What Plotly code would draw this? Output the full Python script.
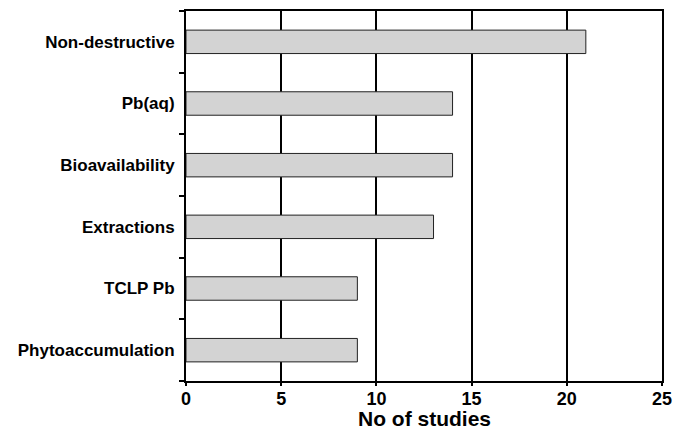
import plotly.graph_objects as go

categories = ["Non-destructive", "Pb(aq)", "Bioavailability", "Extractions", "TCLP Pb", "Phytoaccumulation"]
studies = [21, 14, 14, 13, 9, 9]
x_ticks = [0, 5, 10, 15, 20, 25]

fig = go.Figure(go.Bar(
    y=categories, x=studies, orientation="h", width=0.38,
    marker=dict(color="#d3d3d3", line=dict(color="#222222", width=1)),
))

font_family = "Liberation Sans, Arial, sans-serif"
fig.update_layout(
    width=679, height=421,
    margin=dict(l=178, r=25, t=3, b=48),
    plot_bgcolor="white", paper_bgcolor="white",
    showlegend=False,
    font=dict(family=font_family, color="black"),
    xaxis=dict(
        range=[0, 25], tickvals=x_ticks, ticks="outside", ticklen=3, tickwidth=2,
        tickcolor="black", showgrid=True, gridcolor="black", gridwidth=2,
        showline=True, linecolor="black", linewidth=2, mirror=True,
        zeroline=False, automargin=False,
        tickfont=dict(size=18, family=font_family, weight="bold"),
        ticklabelstandoff=-3,
    ),
    yaxis=dict(
        type="category", categoryorder="array", categoryarray=categories[::-1],
        tickson="boundaries", ticks="outside", ticklen=5, tickwidth=2, tickcolor="black",
        showline=True, linecolor="black", linewidth=2, mirror=True, showgrid=False,
        automargin=False,
        tickfont=dict(size=17, family=font_family, weight="bold"),
        ticklabelstandoff=6,
    ),
    annotations=[dict(
        text="<b>No of studies</b>", xref="paper", yref="paper", x=0.5, y=-0.1,
        xanchor="center", yanchor="middle", showarrow=False,
        font=dict(size=21, family=font_family, color="black"),
    )],
)

fig.write_html("out.html")
